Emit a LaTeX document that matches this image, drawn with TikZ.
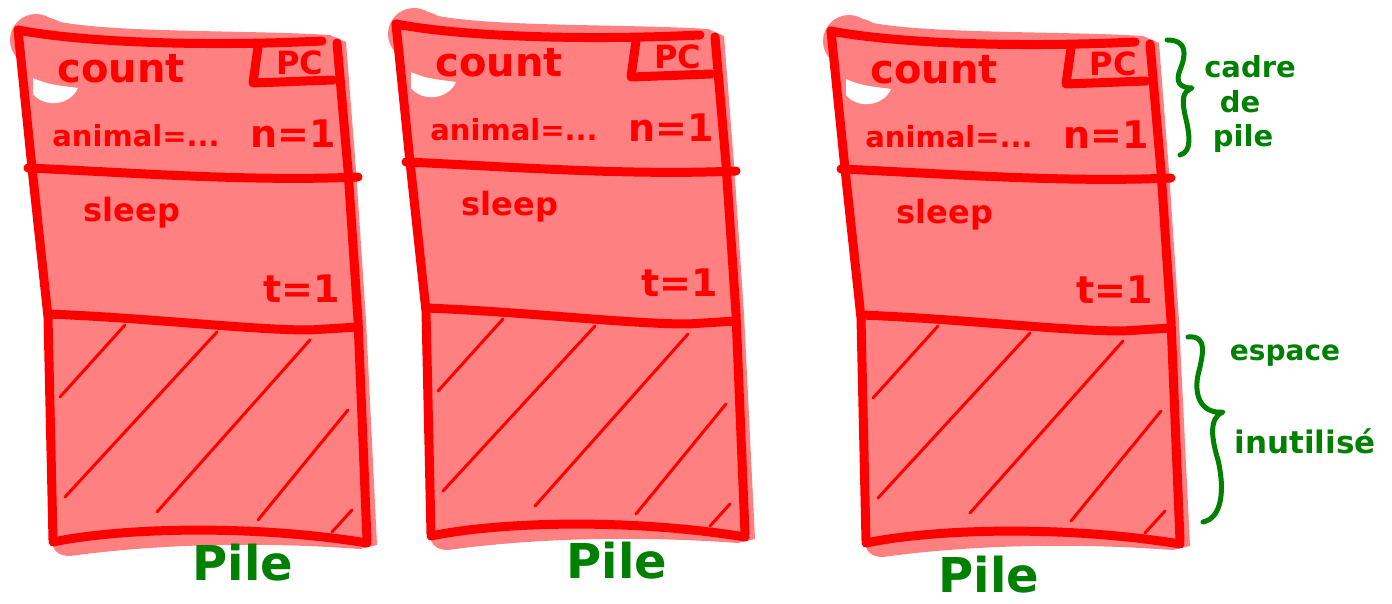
\documentclass[tikz,border=0pt]{standalone}
\usepackage{fontspec}
\setmainfont{DejaVu Sans}
\definecolor{inkred}{RGB}{255,0,0}
\definecolor{wash}{RGB}{255,128,128}
\definecolor{inkgreen}{RGB}{0,128,0}

\newcommand\fsz[1]{\fontsize{#1}{#1}\selectfont\bfseries}

\tikzset{
  wall/.style={draw=inkred, line width=9pt, line cap=round, line join=round},
  hatch/.style={draw=inkred, line width=3pt, line cap=round},
  brace/.style={draw=inkgreen, line width=5pt, line cap=round, line join=round},
  redtxt/.style={text=inkred, inner sep=0pt, anchor=base},
  greentxt/.style={text=inkgreen, inner sep=0pt, anchor=base},
  % one stack: a frame for count on top of a frame for sleep, unused space below
  pile/.pic={
    % pink wash under the stack
    \fill[wash] (36,40) circle (26pt);
    \fill[wash] (15,45) .. controls (10,20) and (40,10) .. (60,22)
      .. controls (120,33) and (250,30) .. (330,35) -- (346,42) -- (356,170)
      -- (366,320) -- (377,545) -- (360,549)
      .. controls (250,541) and (150,545) .. (70,556)
      .. controls (58,556) and (52,550) .. (52,540)
      -- (46,317) -- (30,168) -- (24,68) .. controls (18,66) and (15,55) .. (15,45) -- cycle;
    \fill[white] (33,78) .. controls (50,86) and (66,86) .. (78,88)
      .. controls (70,106) and (44,108) .. (33,94) -- cycle;
    % hatching of the unused space
    \draw[hatch] (125,325) -- (60,397);
    \draw[hatch] (217,332) -- (65,497);
    \draw[hatch] (310,340) -- (157,512);
    \draw[hatch] (348,410) -- (258,520);
    \draw[hatch] (352,510) -- (332,532);
    % outline and separators
    \draw[wall] (18,30) .. controls (80,42) and (200,47) .. (322,41);
    \draw[wall] (337,43) -- (348,170) -- (358,320) -- (367,540);
    \draw[wall] (18,30) -- (32,168) -- (48,317) -- (53,540);
    \draw[wall] (53,542) .. controls (120,528) and (250,524) .. (367,543);
    \draw[wall] (28,168) .. controls (120,172) and (250,182) .. (358,177);
    \draw[wall] (48,314) .. controls (150,318) and (250,330) .. (310,330) -- (358,327);
    \draw[wall] (258,47) -- (253,83) -- (333,80);
    % frame contents
    \node[redtxt, font=\fsz{40}] (-count) at (121,83) {count};
    \node[redtxt, font=\fsz{32}] (-pc) at (300,75) {PC};
    \node[redtxt, font=\fsz{29}] (-vars) at (136,147) {animal=...};
    \node[redtxt, font=\fsz{38}] (-n) at (293,148) {n=1};
    \node[redtxt, font=\fsz{32}] (-sleep) at (132,222) {sleep};
    \node[redtxt, font=\fsz{38}] (-t) at (302,302) {t=1};
  }
}

\begin{document}
\begin{tikzpicture}[x=1pt, y=-1pt]
  \useasboundingbox (0,0) rectangle (1392,604);

  \pic (s1) at (0,0) {pile};
  \pic (s2) at (378,-6) {pile};
  \pic (s3) at (813,1) {pile};

  \node[greentxt, font=\fsz{48}] (pile1) at (243,580) {Pile};
  \node[greentxt, font=\fsz{48}] (pile2) at (617,578) {Pile};
  \node[greentxt, font=\fsz{48}] (pile3) at (989,592) {Pile};

  % brace around the top frame
  \draw[brace] (1167,40) .. controls (1188,40) and (1186,55) .. (1180,70)
    .. controls (1175,82) and (1180,88) .. (1192,88)
    .. controls (1182,92) and (1182,100) .. (1185,115)
    .. controls (1190,135) and (1192,152) .. (1180,155);
  \node[greentxt, font=\fsz{29}] (cadre) at (1250,78) {cadre};
  \node[greentxt, font=\fsz{29}] (de) at (1240,113) {de};
  \node[greentxt, font=\fsz{29}] (pilew) at (1243,147) {pile};

  % brace around the unused space
  \draw[brace] (1188,337) .. controls (1208,335) and (1203,355) .. (1198,375)
    .. controls (1193,400) and (1205,414) .. (1223,412)
    .. controls (1208,418) and (1212,440) .. (1218,460)
    .. controls (1225,490) and (1222,518) .. (1203,522);
  \node[greentxt, font=\fsz{28}] (espace) at (1285,360) {espace};
  \node[greentxt, font=\fsz{31}] (inutil) at (1305,453) {inutilisé};
\end{tikzpicture}
\end{document}
